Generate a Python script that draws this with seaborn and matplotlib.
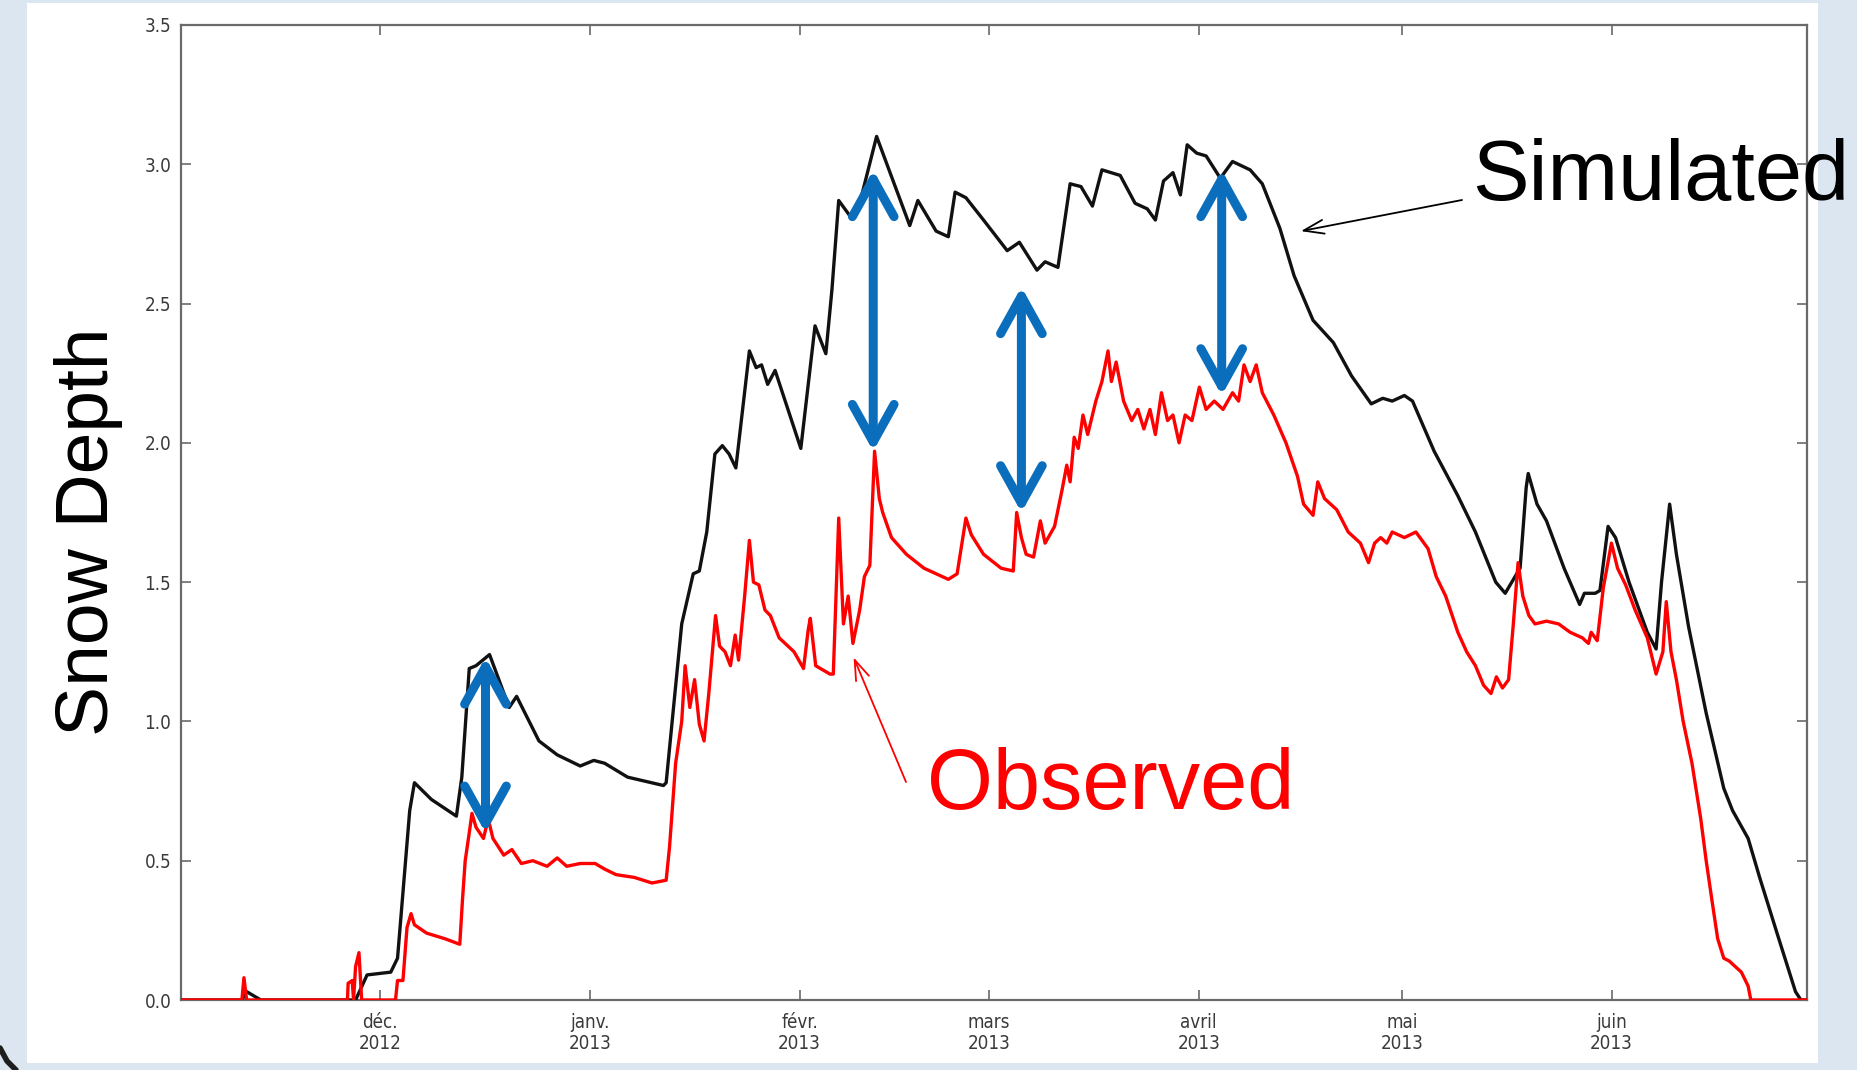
import numpy as np
import pandas as pd
import matplotlib
matplotlib.use("Agg")
import matplotlib.pyplot as plt
import matplotlib.dates as mdates
from matplotlib.patches import Rectangle, ArrowStyle
from matplotlib.lines import Line2D
import seaborn as sns

# ---------------------------------------------------------------- data
# origin of the record (day 0)
START = pd.Timestamp("2012-11-01 14:00")

# simulated snow depth (days since START, metres)
sim_days = [0, 9.0, 9.7, 11.8, 25.8, 27.5, 31.0, 32.0, 33.8, 34.5, 37.0, 40.7, 41.5,
            42.6, 43.6, 45.6, 48.5, 49.6, 52.9, 55.6, 59.0, 61.0, 62.6, 66.0, 71.3,
            71.7, 74.0, 75.7, 76.6, 77.7, 78.9, 80.0, 81.0, 82.0, 84.0, 85.0, 85.8,
            86.7, 87.8, 91.6, 93.7, 95.3, 96.2, 97.2, 99.0, 100.2, 102.8, 105.4,
            107.7, 108.9, 111.6, 113.4, 114.4, 116.0, 118.6, 122.1, 123.9, 126.5,
            127.7, 129.6, 131.4, 133.0, 134.7, 136.1, 138.8, 141.0, 142.8, 144.0,
            145.2, 146.6, 147.7, 148.7, 150.1, 151.5, 153.6, 155.4, 158.0, 159.8,
            162.4, 164.5, 167.3, 170.3, 173.0, 175.9, 177.6, 179.0, 180.8, 182.0,
            185.2, 188.7, 191.3, 194.3, 195.7, 197.4, 197.9, 198.8, 199.1, 200.4,
            201.8, 204.4, 206.7, 207.4, 209.0, 209.7, 210.9, 212.0, 214.0, 216.7,
            218.0, 218.8, 220.0, 221.0, 222.8, 225.4, 228.0, 229.3, 231.6, 233.3,
            236.0, 238.6, 239.4, 240.3]
sim_depth = [0, 0, 0.03, 0, 0, 0.09, 0.10, 0.15, 0.68, 0.78, 0.72, 0.66, 0.80,
             1.19, 1.20, 1.24, 1.05, 1.09, 0.93, 0.88, 0.84, 0.86, 0.85, 0.80, 0.77,
             0.78, 1.35, 1.53, 1.54, 1.68, 1.96, 1.99, 1.96, 1.91, 2.33, 2.27, 2.28,
             2.21, 2.26, 1.98, 2.42, 2.32, 2.55, 2.87, 2.81, 2.85, 3.10, 2.93,
             2.78, 2.87, 2.76, 2.74, 2.90, 2.88, 2.80, 2.69, 2.72, 2.62,
             2.65, 2.63, 2.93, 2.92, 2.85, 2.98, 2.96, 2.86, 2.84, 2.80,
             2.94, 2.97, 2.89, 3.07, 3.04, 3.03, 2.95, 3.01, 2.98, 2.93,
             2.77, 2.60, 2.44, 2.36, 2.24, 2.14, 2.16, 2.15, 2.17, 2.15,
             1.97, 1.81, 1.68, 1.50, 1.46, 1.53, 1.55, 1.84, 1.89, 1.78,
             1.72, 1.55, 1.42, 1.46, 1.46, 1.47, 1.70, 1.66, 1.50, 1.32,
             1.26, 1.50, 1.78, 1.60, 1.34, 1.03, 0.76, 0.68, 0.58, 0.44,
             0.23, 0.03, 0.0, 0.0]

# observed snow depth (days since START, metres)
obs_days = [0, 9.0, 9.3, 9.7, 24.6, 24.7, 25.3, 25.5, 25.8, 26.3, 26.7, 31.7, 32.0,
            32.8, 33.4, 34.0, 34.5, 36.3, 39.0, 41.2, 41.6, 42.0, 42.6, 43.0, 43.6,
            44.7, 45.4, 46.1, 47.7, 48.9, 50.3, 52.0, 54.1, 55.6, 57.0, 59.0, 61.2,
            62.6, 64.3, 67.0, 69.6, 71.7, 72.2, 73.1, 74.0, 74.5, 75.2, 75.9, 76.6,
            77.3, 78.0, 79.0, 79.6, 80.4, 81.2, 81.9, 82.4, 83.3, 84.0, 84.6, 85.4,
            86.3, 87.1, 88.4, 90.6, 92.0, 92.7, 93.0, 93.8, 95.9, 96.4, 97.2, 97.9,
            98.6, 99.3, 100.3, 101.0, 101.8, 102.5, 103.2, 103.7, 105.0, 107.2,
            109.8, 113.4, 114.7, 116.0, 116.8, 118.6, 121.2, 123.0, 123.5, 124.2,
            124.9, 126.0, 127.0, 127.7, 129.1, 130.2, 130.9, 131.4, 132.0, 132.6,
            133.3, 134.0, 135.2, 136.1, 137.0, 137.5, 138.2, 139.3, 140.5, 141.4,
            142.3, 143.2, 144.0, 144.9, 145.8, 146.6, 147.5, 148.4, 149.4, 150.5,
            151.5, 152.7, 154.0, 155.4, 156.3, 157.1, 158.0, 158.9, 159.8, 161.5,
            163.3, 165.0, 165.9, 167.3, 168.0, 169.0, 170.8, 172.5, 174.3, 175.5,
            176.4, 177.3, 178.2, 179.0, 180.8, 182.5, 184.3, 185.5, 186.9, 188.7,
            190.0, 191.3, 192.5, 193.6, 194.4, 195.3, 196.2, 196.9, 197.6, 198.3,
            199.2, 200.1, 201.8, 203.6, 205.3, 207.1, 208.0, 208.4, 209.3, 210.2,
            211.4, 212.3, 213.5, 214.9, 216.7, 218.0, 219.0, 219.5, 220.2, 221.0,
            222.0, 223.3, 224.6, 225.4, 226.3, 227.1, 228.0, 228.8, 229.7, 230.6,
            231.6, 232.0, 240.3]
obs_depth = [0, 0, 0.08, 0, 0, 0.06, 0.07, 0, 0.12, 0.17, 0, 0, 0.07,
             0.07, 0.26, 0.31, 0.27, 0.24, 0.22, 0.20, 0.36, 0.50, 0.60, 0.67, 0.62,
             0.58, 0.65, 0.58, 0.52, 0.54, 0.49, 0.50, 0.48, 0.51, 0.48, 0.49, 0.49,
             0.47, 0.45, 0.44, 0.42, 0.43, 0.55, 0.85, 1.00, 1.20, 1.05, 1.15, 0.99,
             0.93, 1.10, 1.38, 1.27, 1.25, 1.20, 1.31, 1.22, 1.45, 1.65, 1.50, 1.49,
             1.40, 1.38, 1.30, 1.25, 1.19, 1.33, 1.37, 1.20, 1.17, 1.17, 1.73, 1.35,
             1.45, 1.28, 1.40, 1.52, 1.56, 1.97, 1.80, 1.75, 1.66, 1.60,
             1.55, 1.51, 1.53, 1.73, 1.67, 1.60, 1.55, 1.54, 1.75, 1.66,
             1.60, 1.59, 1.72, 1.64, 1.70, 1.83, 1.92, 1.86, 2.02, 1.98,
             2.10, 2.03, 2.15, 2.22, 2.33, 2.22, 2.29, 2.15, 2.08, 2.12,
             2.05, 2.12, 2.03, 2.18, 2.08, 2.10, 2.00, 2.10, 2.08, 2.20,
             2.12, 2.15, 2.12, 2.18, 2.15, 2.28, 2.22, 2.28, 2.18, 2.10,
             2.00, 1.88, 1.78, 1.74, 1.86, 1.80, 1.76, 1.68, 1.64, 1.57,
             1.64, 1.66, 1.64, 1.68, 1.66, 1.68, 1.62, 1.52, 1.45, 1.32,
             1.25, 1.20, 1.13, 1.10, 1.16, 1.12, 1.15, 1.35, 1.57, 1.45,
             1.38, 1.35, 1.36, 1.35, 1.32, 1.30, 1.28, 1.32, 1.29, 1.48,
             1.64, 1.55, 1.49, 1.40, 1.30, 1.17, 1.25, 1.43, 1.25, 1.15,
             1.00, 0.85, 0.65, 0.50, 0.35, 0.22, 0.15, 0.14, 0.12, 0.10,
             0.05, 0.0, 0.0]

month_ticks = ["2012-12-01", "2013-01-01", "2013-02-01", "2013-03-01",
               "2013-04-01", "2013-05-01", "2013-06-01"]
month_labels = ["déc.\n2012", "janv.\n2013", "févr.\n2013", "mars\n2013",
                "avril\n2013", "mai\n2013", "juin\n2013"]
y_ticks = [0.0, 0.5, 1.0, 1.5, 2.0, 2.5, 3.0, 3.5]
y_labels = ["0.0", "0.5", "1.0", "1.5", "2.0", "2.5", "3.0", "3.5"]

# gaps between the two series (day, observed end, simulated end)
gap_days = [45.0, 102.3, 124.2, 153.8]
gap_low = [0.60, 1.97, 1.75, 2.17]
gap_high = [1.23, 2.98, 2.56, 2.98]

# ---------------------------------------------------------------- figure
W, H = 1857, 1070
sns.set_theme(style="ticks")
plt.rcParams["font.family"] = ["Liberation Sans", "DejaVu Sans"]

fig = plt.figure(figsize=(W / 100, H / 100), dpi=100, facecolor="#dce6f1")
fig.patches.append(Rectangle((27 / W, 1 - 1063 / H), (1818 - 27) / W, (1063 - 3) / H,
                             transform=fig.transFigure, facecolor="white",
                             edgecolor="none", zorder=-5))
fig.add_artist(Line2D([0, 7 / W, 16 / W], [22 / H, 9 / H, 0],
                      transform=fig.transFigure, color="#1e1e1e", lw=4,
                      solid_capstyle="round", zorder=-4))

ax = fig.add_axes([181 / W, 1 - 1000 / H, (1807 - 181) / W, (1000 - 25) / H])
ax.set_facecolor("white")

sim = pd.DataFrame({"date": START + pd.to_timedelta(sim_days, unit="D"),
                    "depth": sim_depth})
obs = pd.DataFrame({"date": START + pd.to_timedelta(obs_days, unit="D"),
                    "depth": obs_depth})

sns.lineplot(data=sim, x="date", y="depth", color="#111111", lw=2.4,
             estimator=None, ax=ax, zorder=3)
sns.lineplot(data=obs, x="date", y="depth", color="#ff0000", lw=2.4,
             estimator=None, ax=ax, zorder=4)

ax.set_xlim(START, START + pd.Timedelta(days=240.3))
ax.set_ylim(0, 3.5)
ax.set_xlabel("")
ax.set_ylabel("")

ax.set_xticks(pd.to_datetime(month_ticks))
ax.set_xticklabels(month_labels)
ax.set_yticks(y_ticks)
ax.set_yticklabels(y_labels)
ax.tick_params(axis="both", direction="in", top=True, right=True,
               length=7, width=1.2, color="#6a6a6a", labelcolor="#3a3a3a",
               labelsize=13.5)
ax.tick_params(axis="x", pad=9)
ax.tick_params(axis="y", pad=7)
for lab in ax.get_xticklabels() + ax.get_yticklabels():
    lab.set_family("DejaVu Sans")
    lab.set_fontstretch("condensed")
    lab.set_linespacing(1.15)
for sp in ax.spines.values():
    sp.set_color("#6a6a6a")
    sp.set_linewidth(1.6)

# double-headed markers between observed and simulated depth
gap_style = ArrowStyle("<->", head_length=2.7, head_width=1.5)
for d, lo, hi in zip(gap_days, gap_low, gap_high):
    xd = mdates.date2num(START + pd.Timedelta(days=d))
    ax.annotate("", xy=(xd, lo), xytext=(xd, hi),
                arrowprops=dict(arrowstyle=gap_style, mutation_scale=10,
                                color="#0a6ebd", lw=6.5, shrinkA=0, shrinkB=0,
                                capstyle="round", joinstyle="round"),
                zorder=6)

# series labels with pointer arrows
pointer = ArrowStyle("->", head_length=1.45, head_width=0.5)
sim_tip = mdates.date2num(START + pd.Timedelta(days=165.5))
ax.annotate("", xy=(sim_tip, 2.76), xytext=(1462 / W, 1 - 200 / H),
            textcoords="figure fraction", annotation_clip=False,
            arrowprops=dict(arrowstyle=pointer, mutation_scale=10, color="black",
                            lw=1.3, shrinkA=0, shrinkB=0), zorder=7)
obs_tip = mdates.date2num(START + pd.Timedelta(days=99.4))
ax.annotate("", xy=(obs_tip, 1.23), xytext=(906 / W, 1 - 782 / H),
            textcoords="figure fraction", annotation_clip=False,
            arrowprops=dict(arrowstyle=pointer, mutation_scale=10, color="#ff0000",
                            lw=1.3, shrinkA=0, shrinkB=0), zorder=7)

fig.text(1472 / W, 1 - 200 / H, "Simulated", fontsize=61, color="black",
         ha="left", va="baseline", zorder=10)
fig.text(927 / W, 1 - 809 / H, "Observed", fontsize=61, color="#ff0000",
         ha="left", va="baseline", zorder=10)
fig.text(89 / W, 1 - 532 / H, "Snow Depth", fontsize=54, color="black",
         rotation=90, ha="center", va="center", zorder=10)

fig.savefig("out.png", dpi=100, facecolor=fig.get_facecolor())
